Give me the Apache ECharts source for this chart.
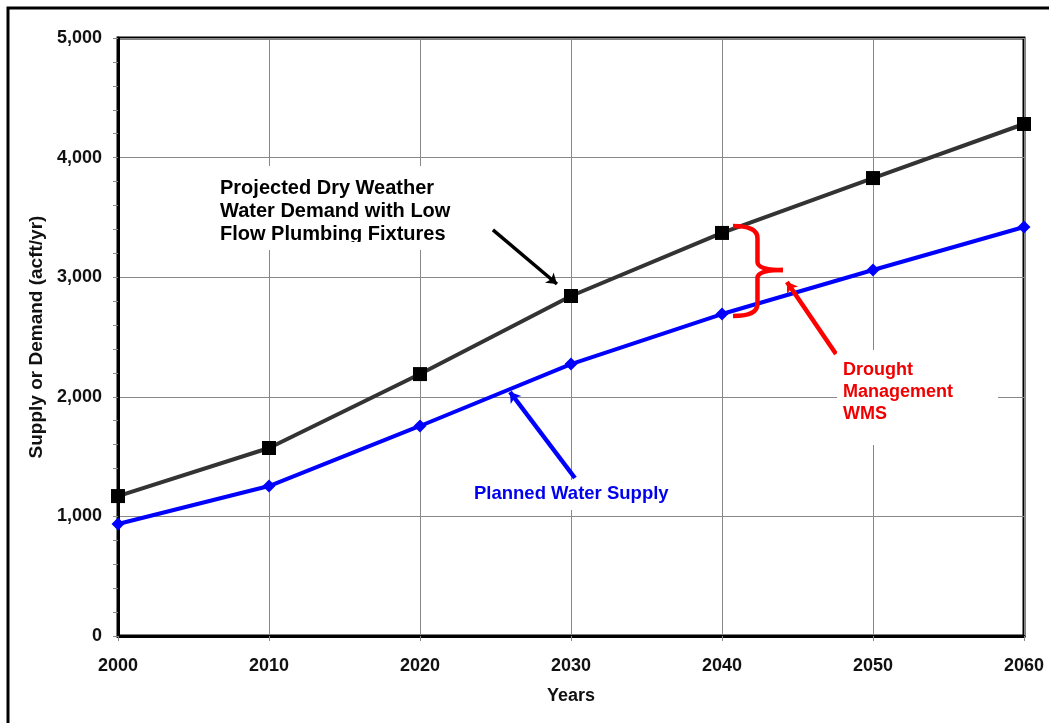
<!DOCTYPE html>
<html>
<head>
<meta charset="utf-8">
<script src="https://cdn.jsdelivr.net/npm/echarts@6/dist/echarts.min.js"></script>
<style>
html,body{margin:0;padding:0;background:#fff;}
#chart{width:1049px;height:723px;}
</style>
</head>
<body>
<div id="chart"></div>
<script>
const years = [2000, 2010, 2020, 2030, 2040, 2050, 2060];
const demandValues = [1170, 1572, 2190, 2843, 3370, 3829, 4281];
const supplyValues = [936, 1254, 1756, 2274, 2692, 3060, 3420];
const yTicks = [0, 1000, 2000, 3000, 4000, 5000];
const xTicks = [2000, 2010, 2020, 2030, 2040, 2050, 2060];

const FONT = '"Liberation Sans", Arial, sans-serif';
const chart = echarts.init(document.getElementById('chart'), null, {renderer: 'canvas'});

const option = {
  backgroundColor: '#fff',
  animation: false,
  grid: {left: 118, top: 38, width: 906, height: 598, show: true, borderColor: '#000', borderWidth: 3, containLabel: false},
  xAxis: {
    type: 'value', min: xTicks[0], max: xTicks[xTicks.length - 1], interval: 10,
    name: 'Years', nameLocation: 'middle', nameGap: 51,
    nameTextStyle: {fontFamily: FONT, fontWeight: 'bold', fontSize: 18, color: '#111'},
    axisLine: {show: true, onZero: false, lineStyle: {color: '#000', width: 3}},
    axisTick: {show: true, length: 5, lineStyle: {color: '#888'}},
    axisLabel: {fontFamily: FONT, fontWeight: 'bold', fontSize: 18, color: '#111', margin: 21, formatter: v => String(v)},
    splitLine: {show: true, lineStyle: {color: '#888', width: 1}}
  },
  yAxis: {
    type: 'value', min: yTicks[0], max: yTicks[yTicks.length - 1], interval: 1000,
    name: 'Supply or Demand (acft/yr)', nameLocation: 'middle', nameGap: 71, nameRotate: 90,
    nameTextStyle: {fontFamily: FONT, fontWeight: 'bold', fontSize: 19, color: '#111'},
    axisLine: {show: true, lineStyle: {color: '#000', width: 3}},
    axisTick: {show: true, length: 5, lineStyle: {color: '#888'}},
    minorTick: {show: true, splitNumber: 5, length: 5, lineStyle: {color: '#888'}},
    axisLabel: {fontFamily: FONT, fontWeight: 'bold', fontSize: 18, color: '#111', margin: 16,
      formatter: v => v.toLocaleString('en-US')},
    splitLine: {show: true, lineStyle: {color: '#888', width: 1}}
  },
  series: [
    {
      name: 'Projected Dry Weather Water Demand with Low Flow Plumbing Fixtures',
      type: 'line',
      data: years.map((y, i) => [y, demandValues[i]]),
      symbol: 'rect', symbolSize: 14,
      lineStyle: {color: '#333', width: 4},
      itemStyle: {color: '#000'},
      z: 3,
      markLine: {
        silent: true, symbol: ['none', 'arrow'], symbolSize: 10,
        label: {show: false},
        lineStyle: {color: '#000', width: 3.5, type: 'solid'},
        data: [[{coord: [2024.83, 3395]}, {coord: [2029.07, 2943]}]]
      }
    },
    {
      name: 'Planned Water Supply',
      type: 'line',
      data: years.map((y, i) => [y, supplyValues[i]]),
      symbol: 'diamond', symbolSize: 13,
      lineStyle: {color: '#0000ff', width: 4},
      itemStyle: {color: '#0000ff'},
      z: 4,
      markLine: {
        silent: true, symbol: ['none', 'arrow'], symbolSize: 10,
        label: {show: false},
        lineStyle: {color: '#0000ff', width: 4.5, type: 'solid'},
        data: [[{coord: [2030.26, 1321]}, {coord: [2025.96, 2040]}]]
      }
    },
    {
      name: 'Drought Management WMS',
      type: 'line',
      data: [],
      markLine: {
        silent: true, symbol: ['none', 'arrow'], symbolSize: 10,
        label: {show: false},
        lineStyle: {color: '#ff0000', width: 4.5, type: 'solid'},
        data: [[{coord: [2047.55, 2358]}, {coord: [2044.3, 2960]}]]
      }
    }
  ]
};
chart.setOption(option);

function px(x, y) { return chart.convertToPixel({gridIndex: 0}, [x, y]); }

// brace anchored in data coordinates
const bTop = px(2040.73, 3428), bBot = px(2040.73, 2676);
const bMidX = px(2042.35, 3060)[0], bTip = px(2044.04, 3060);
const xl = bTop[0], xm = bMidX, xr = bTip[0], yt = bTop[1], yb = bBot[1], ym = bTip[1];
const red = '#ff0000';
const braceStyle = {fill: 'none', stroke: red, lineWidth: 4.5};
const brace = [
  {type: 'bezierCurve', shape: {x1: xl, y1: yt, x2: xm, y2: yt + 12, cpx1: xm, cpy1: yt}},
  {type: 'line', shape: {x1: xm, y1: yt + 12, x2: xm, y2: ym - 8}},
  {type: 'bezierCurve', shape: {x1: xm, y1: ym - 8, x2: xr, y2: ym, cpx1: xm, cpy1: ym}},
  {type: 'bezierCurve', shape: {x1: xr, y1: ym, x2: xm, y2: ym + 8, cpx1: xm, cpy1: ym}},
  {type: 'line', shape: {x1: xm, y1: ym + 8, x2: xm, y2: yb - 12}},
  {type: 'bezierCurve', shape: {x1: xm, y1: yb - 12, x2: xl, y2: yb, cpx1: xm, cpy1: yb}}
].map(e => Object.assign(e, {style: braceStyle, z: 20, silent: true}));

const txt = (color, size, lh) => ({fontFamily: FONT, fontWeight: 'bold', fontSize: size, fill: color, lineHeight: lh});

chart.setOption({
  graphic: [
    {type: 'rect', shape: {x: 8, y: 8, width: 1070, height: 740}, style: {fill: 'none', stroke: '#000', lineWidth: 3}, silent: true, z: 10},
    ...brace,
    // black annotation
    {type: 'rect', shape: {x: 214, y: 166, width: 242, height: 84}, style: {fill: '#fff'}, silent: true, z: 15},
    {type: 'text', x: 220, y: 177, z: 16, silent: true,
      style: Object.assign(txt('#000', 20, 23), {text: 'Projected Dry Weather\nWater Demand with Low\nFlow Plumbing Fixtures'})},
    {type: 'rect', shape: {x: 214, y: 242, width: 242, height: 8}, style: {fill: '#fff'}, silent: true, z: 17},
    // blue annotation
    {type: 'rect', shape: {x: 470, y: 480, width: 204, height: 30}, style: {fill: '#fff'}, silent: true, z: 15},
    {type: 'text', x: 474, y: 484, z: 16, silent: true,
      style: Object.assign(txt('#0000ee', 18.5, 20), {text: 'Planned Water Supply'})},
    // red annotation
    {type: 'rect', shape: {x: 837, y: 350, width: 161, height: 95}, style: {fill: '#fff'}, silent: true, z: 15},
    {type: 'text', x: 843, y: 359, z: 16, silent: true,
      style: Object.assign(txt('#f00000', 18, 22), {text: 'Drought\nManagement\nWMS'})}
  ]
});
</script>
</body>
</html>
